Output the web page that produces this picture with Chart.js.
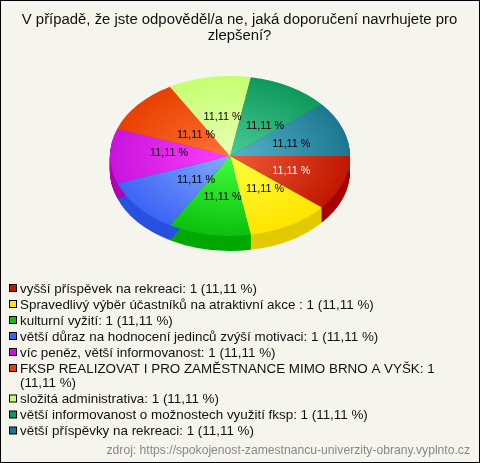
<!DOCTYPE html>
<html>
<head>
<meta charset="utf-8">
<script src="https://cdn.jsdelivr.net/npm/chart.js@4"></script>
<style>
html, body { margin: 0; padding: 0; background: #f5f4ed; }
canvas { display: block; }
</style>
</head>
<body>
<canvas id="pieChart" width="480" height="463"></canvas>
<script>
var titleLines = ['V případě, že jste odpověděl/a ne, jaká doporučení navrhujete pro', 'zlepšení?'];
var categories = [
    'vyšší příspěvek na rekreaci',
    'Spravedlivý výběr účastníků na atraktivní akce ',
    'kulturní vyžití',
    'větší důraz na hodnocení jedinců zvýší motivaci',
    'víc peněz, větší informovanost',
    'FKSP REALIZOVAT I PRO ZAMĚSTNANCE MIMO BRNO A VYŠK',
    'složitá administrativa',
    'větší informovanost o možnostech využití fksp',
    'větší příspěvky na rekreaci'
];
var counts = [1, 1, 1, 1, 1, 1, 1, 1, 1];
var percents = ['11,11', '11,11', '11,11', '11,11', '11,11', '11,11', '11,11', '11,11', '11,11'];
var sourceText = 'zdroj: https://spokojenost-zamestnancu-univerzity-obrany.vyplnto.cz';

var innerColors = ['#f25a38', '#ffff40', '#40ff40', '#84aaff', '#ff40ff', '#ff7438', '#ecffb4', '#48cc96', '#58b4cc'];
var rimColors = ['#c01800', '#ffe400', '#0cc00c', '#3c64f4', '#c814dc', '#e84000', '#c4ff70', '#10985c', '#1c7890'];
var sideColors = ['#a80000', '#e2ca00', '#00a800', '#2850e0', '#b000b0', '#c03000', '#a0d050', '#087840', '#105868'];
var legendColors = ['#c01800', '#ffe400', '#0cc00c', '#3c64f4', '#c814dc', '#e84000', '#c4ff70', '#10985c', '#1c7890'];

var squash = 2 / 3;
var depth = 15;
// small shifts so the percent labels sit where the original has them
var labelShift = [[5, 1], [5, -2], [3, 2], [12, -2], [-1, -3], [12, 5], [3, 0], [5, 5], [5, 2]];

function sliceGradient(context) {
    var chart = context.chart;
    if (!chart.chartArea) return rimColors[context.dataIndex];
    var cx = (chart.chartArea.left + chart.chartArea.right) / 2;
    var cy = (chart.chartArea.top + chart.chartArea.bottom) / 2;
    var g = chart.ctx.createRadialGradient(cx, cy, 0, cx, cy, 120);
    g.addColorStop(0, innerColors[context.dataIndex]);
    g.addColorStop(1, rimColors[context.dataIndex]);
    return g;
}

var tiltedPie = {
    id: 'tiltedPie',
    beforeDraw: function (chart) {
        var ctx = chart.ctx;
        ctx.save();
        ctx.fillStyle = '#f5f4ed';
        ctx.fillRect(0, 0, chart.width, chart.height);
        ctx.strokeStyle = '#000';
        ctx.lineWidth = 1;
        ctx.strokeRect(0.5, 0.5, chart.width - 1, chart.height - 1);
        ctx.restore();
    },
    beforeDatasetDraw: function (chart) {
        var ctx = chart.ctx;
        var arcs = chart.getDatasetMeta(0).data;
        var cx = arcs[0].x, cy = arcs[0].y;
        ctx.save();
        // side wall of the pie
        arcs.forEach(function (arc, i) {
            ctx.fillStyle = sideColors[i];
            for (var d = depth; d > 0; d--) {
                ctx.beginPath();
                ctx.moveTo(cx, cy + d);
                ctx.ellipse(cx, cy + d, arc.outerRadius, arc.outerRadius * squash, 0, arc.startAngle, arc.endAngle);
                ctx.closePath();
                ctx.fill();
            }
        });
        ctx.translate(cx, cy);
        ctx.scale(1, squash);
        ctx.translate(-cx, -cy);
    },
    afterDatasetDraw: function (chart) {
        chart.ctx.restore();
    },
    afterDraw: function (chart) {
        var ctx = chart.ctx;
        var arcs = chart.getDatasetMeta(0).data;
        var cy = arcs[0].y;
        ctx.save();
        ctx.textBaseline = 'middle';

        ctx.font = '14.9px "Liberation Sans"';
        ctx.textAlign = 'center';
        ctx.fillStyle = '#111';
        titleLines.forEach(function (line, i) {
            ctx.fillText(line, 239.5, 20 + i * 16);
        });

        // percent labels on the slices
        ctx.font = '10.8px "Liberation Sans"';
        arcs.forEach(function (arc, i) {
            var p = arc.getCenterPoint();
            ctx.fillStyle = i === 0 ? '#ffffff' : '#000000';
            ctx.fillText(percents[i] + ' %', p.x + labelShift[i][0], cy + (p.y - cy) * squash + labelShift[i][1]);
        });

        // legend
        ctx.font = '13.4px "Liberation Sans"';
        ctx.textAlign = 'left';
        var y = 289;
        categories.forEach(function (name, i) {
            ctx.fillStyle = legendColors[i];
            ctx.fillRect(9.5, y - 4.5, 7, 7);
            ctx.strokeStyle = '#000';
            ctx.lineWidth = 1;
            ctx.strokeRect(9.5, y - 4.5, 7, 7);
            ctx.fillStyle = '#111';
            var words = (name + ': ' + counts[i] + ' (' + percents[i] + ' %)').split(' ');
            var line = '';
            words.forEach(function (word) {
                var next = line ? line + ' ' + word : word;
                if (ctx.measureText(next).width > 440) {
                    ctx.fillText(line, 20, y);
                    y += 14.5;
                    line = word;
                } else {
                    line = next;
                }
            });
            ctx.fillText(line, 20, y);
            y += 16;
        });

        ctx.font = '12.15px "Liberation Sans"';
        ctx.textAlign = 'right';
        ctx.fillStyle = '#888';
        ctx.fillText(sourceText, 470, 451);
        ctx.restore();
    }
};

new Chart(document.getElementById('pieChart').getContext('2d'), {
    type: 'pie',
    data: {
        labels: categories,
        datasets: [{
            data: counts,
            backgroundColor: sliceGradient,
            borderWidth: 0,
            clip: false
        }]
    },
    options: {
        responsive: false,
        animation: false,
        rotation: 90,
        radius: 120,
        layout: { padding: { right: 20, bottom: 151 } },
        plugins: {
            legend: { display: false },
            tooltip: { enabled: false }
        }
    },
    plugins: [tiltedPie]
});
</script>
</body>
</html>
